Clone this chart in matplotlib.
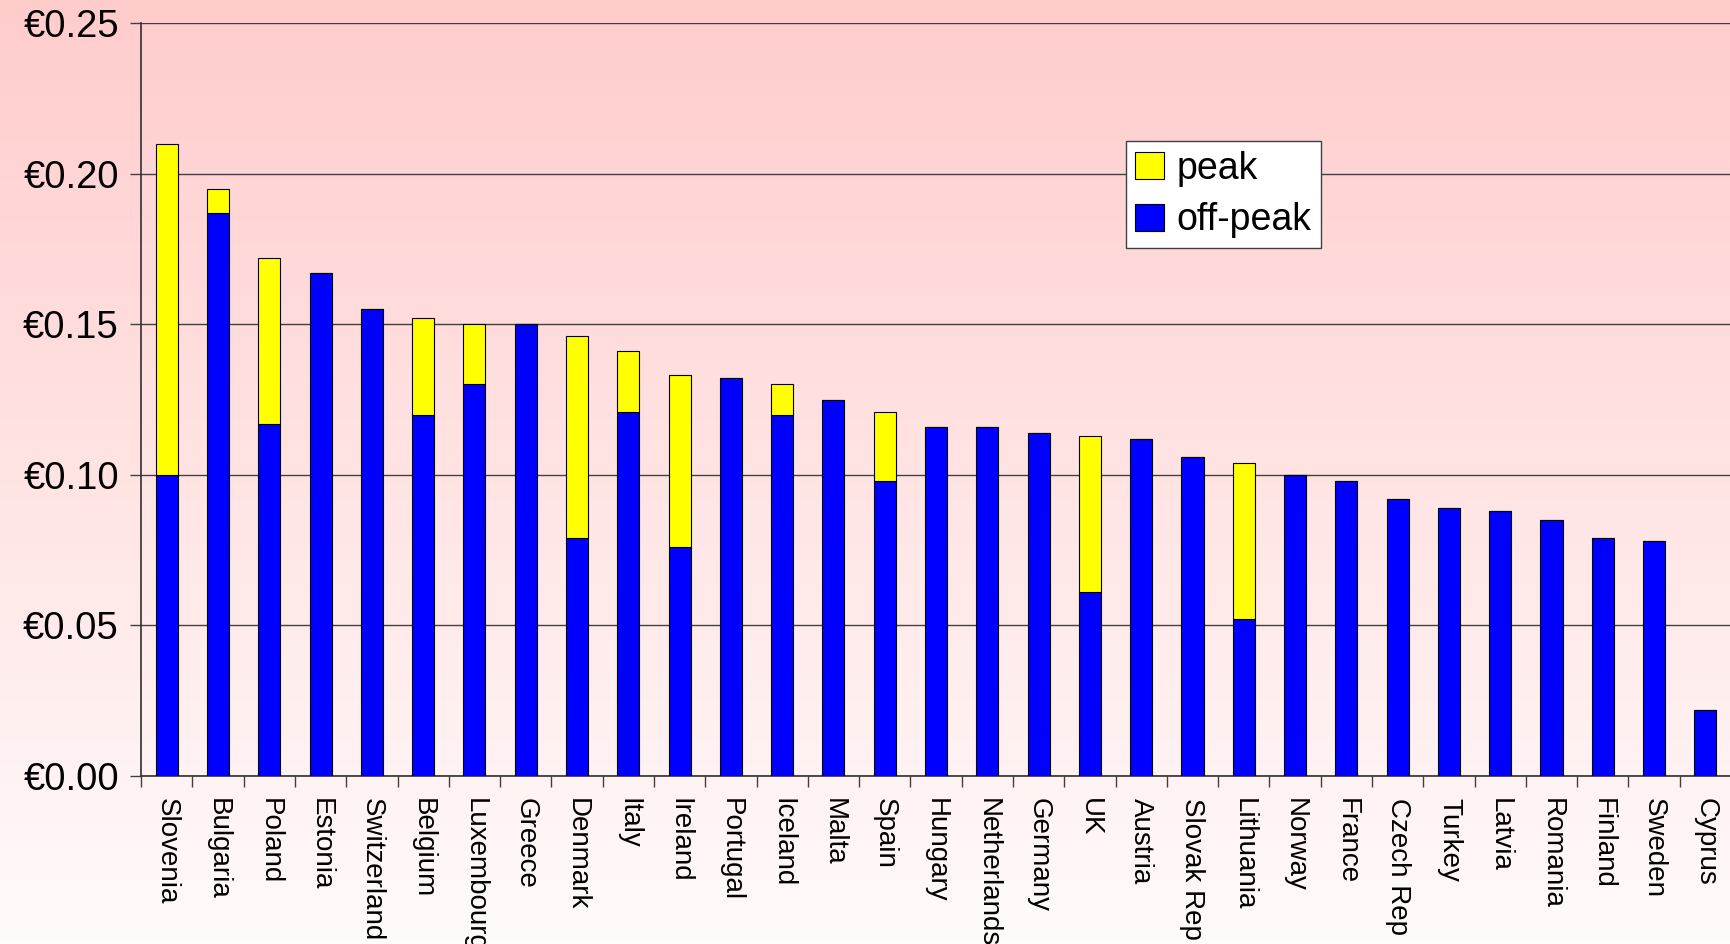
import numpy as np
import matplotlib.pyplot as plt
from matplotlib.ticker import FuncFormatter, MultipleLocator

plt.rcParams['font.family'] = ['Liberation Sans', 'DejaVu Sans']

countries = ["Slovenia", "Bulgaria", "Poland", "Estonia", "Switzerland", "Belgium",
             "Luxembourg", "Greece", "Denmark", "Italy", "Ireland", "Portugal",
             "Iceland", "Malta", "Spain", "Hungary", "Netherlands", "Germany", "UK",
             "Austria", "Slovak Rep", "Lithuania", "Norway", "France", "Czech Rep",
             "Turkey", "Latvia", "Romania", "Finland", "Sweden", "Cyprus"]

# off-peak price and the peak price (EUR per kWh); peak is 0 where no peak tariff
off_peak = [0.100, 0.187, 0.117, 0.167, 0.155, 0.120, 0.130, 0.150, 0.079, 0.121,
            0.076, 0.132, 0.120, 0.125, 0.098, 0.116, 0.116, 0.114, 0.061, 0.112,
            0.106, 0.052, 0.100, 0.098, 0.092, 0.089, 0.088, 0.085, 0.079, 0.078,
            0.022]
peak = [0.210, 0.195, 0.172, 0, 0, 0.152, 0.150, 0, 0.146, 0.141,
        0.133, 0, 0.130, 0, 0.121, 0, 0, 0, 0.113, 0,
        0, 0.104, 0, 0, 0, 0, 0, 0, 0, 0,
        0]

n = len(countries)
off_peak = np.array(off_peak)
peak = np.array(peak)
extra = np.where(peak > 0, peak - off_peak, 0)

fig = plt.figure(figsize=(17.31, 9.44), dpi=100)

# pink-to-white background over the whole figure
bg = fig.add_axes([0, 0, 1, 1], zorder=-10)
grad = np.linspace(0, 1, 256).reshape(-1, 1)
top_c = np.array([255, 204, 204]) / 255
bot_c = np.array([255, 251, 251]) / 255
img = top_c[None, None, :] * (1 - grad[:, :, None]) + bot_c[None, None, :] * grad[:, :, None]
bg.imshow(img, aspect='auto', extent=[0, 1, 0, 1])
bg.axis('off')

ax = fig.add_axes([0.0815, 0.178, 0.9185, 0.7976])
ax.patch.set_alpha(0)

x = np.arange(n)
w = 0.43
ax.bar(x, off_peak, w, color='#0000FF', edgecolor='black', linewidth=0.8,
       label='off-peak', zorder=3)
ax.bar(x, extra, w, bottom=off_peak, color='#FFFF00', edgecolor='black',
       linewidth=0.8, label='peak', zorder=3)

ax.set_ylim(0, 0.25)
ax.set_xlim(-0.5, n - 0.66)
ax.yaxis.set_major_locator(MultipleLocator(0.05))
ax.yaxis.set_major_formatter(FuncFormatter(lambda v, p: "€%.2f" % v))
ax.grid(axis='y', color='#404040', linewidth=1, zorder=1)
ax.set_axisbelow(True)

ax.set_xticks(x)
ax.set_xticklabels(countries, rotation=270, fontsize=20, ha='center', va='top')
ax.set_xticks(np.arange(n + 1) - 0.5, minor=True)
ax.tick_params(axis='x', which='major', length=0, pad=16)
ax.tick_params(axis='x', which='minor', length=8, width=1, color='#404040', direction='out')
ax.tick_params(axis='y', labelsize=27.5, length=8, width=1, color='#404040', pad=8)

for s in ['top', 'right']:
    ax.spines[s].set_visible(False)
for s in ['left', 'bottom']:
    ax.spines[s].set_color('#303030')
    ax.spines[s].set_linewidth(1.2)

handles, labels = ax.get_legend_handles_labels()
leg = ax.legend(handles[::-1], labels[::-1], loc='upper left',
                bbox_to_anchor=(0.6195, 0.843), fontsize=27, frameon=True,
                fancybox=False, edgecolor='#404040', framealpha=1,
                handlelength=0.75, handleheight=0.75, handletextpad=0.35,
                borderpad=0.25, labelspacing=0.42, borderaxespad=0)
leg.get_frame().set_linewidth(1)

fig.savefig("out.png", dpi=100)
